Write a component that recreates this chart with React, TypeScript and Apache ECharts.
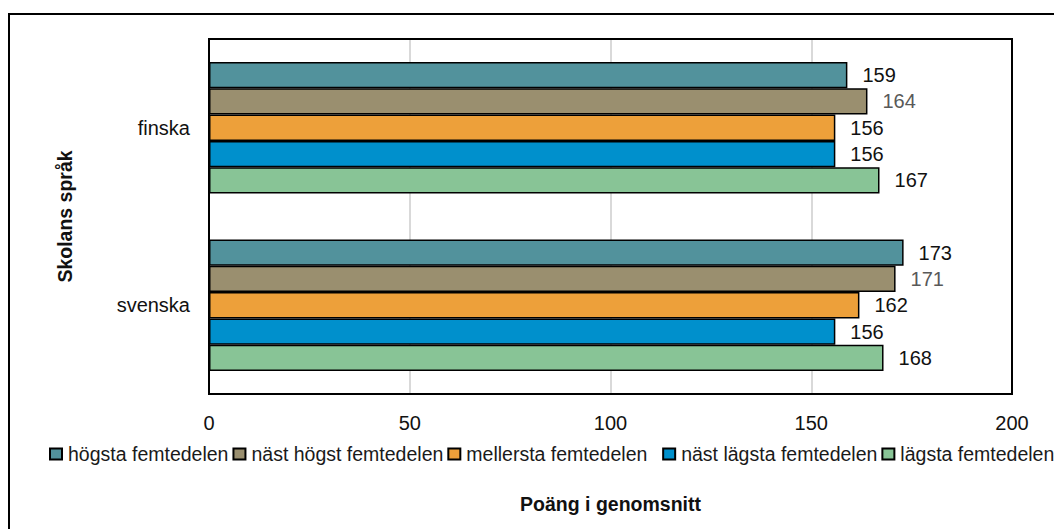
import React, { useEffect, useRef } from "react";
import * as echarts from "echarts";

const categories = ["finska", "svenska"];
const seriesNames = [
  "högsta femtedelen",
  "näst högst femtedelen",
  "mellersta femtedelen",
  "näst lägsta femtedelen",
  "lägsta femtedelen",
];
const hogsta = [159, 173];
const nastHogst = [164, 171];
const mellersta = [156, 162];
const nastLagsta = [156, 156];
const lagsta = [167, 168];
const seriesValues = [hogsta, nastHogst, mellersta, nastLagsta, lagsta];
const colors = ["#52929C", "#9A8F6F", "#EDA03A", "#0090CC", "#88C496"];
const labelColors = ["#111", "#595959", "#111", "#111", "#111"];
const xTicks = [0, 50, 100, 150, 200];

const FONT = "'Liberation Sans', Arial, sans-serif";
const FS = 20;

export default function App() {
  const ref = useRef<HTMLDivElement>(null);
  useEffect(() => {
    if (!ref.current) return;
    const chart = echarts.init(ref.current, null, { renderer: "svg" });
    const gl = 209, gt = 39, gw = 803, gh = 355;
    chart.setOption({
      animation: false,
      textStyle: { fontFamily: FONT },
      grid: { left: gl, top: gt, width: gw, height: gh, show: false },
      legend: {
        left: 49,
        top: 444,
        width: 1040,
        padding: 0,
        itemGap: 4,
        itemWidth: 12,
        itemHeight: 11,
        icon: "rect",
        formatter: (n: string) => (n === "mellersta femtedelen" ? n + "  " : n),
        textStyle: { fontSize: 19.5, color: "#1a1a1a", fontFamily: FONT, padding: [0, 0, 0, 1] },
        data: seriesNames,
      },
      xAxis: {
        type: "value",
        min: xTicks[0],
        max: xTicks[xTicks.length - 1],
        interval: 50,
        name: "Poäng i genomsnitt",
        nameLocation: "middle",
        nameGap: 100,
        nameTextStyle: { fontSize: 19.5, fontWeight: "bold", color: "#111", fontFamily: FONT },
        axisLine: { show: false },
        axisTick: { show: false },
        axisLabel: { fontSize: FS, color: "#111", margin: 19, fontFamily: FONT },
        splitLine: { show: true, lineStyle: { color: "#D9D9D9", width: 2 } },
      },
      yAxis: {
        type: "category",
        inverse: true,
        data: categories,
        name: "Skolans språk",
        nameLocation: "middle",
        nameGap: 134,
        nameRotate: 90,
        nameTextStyle: { fontSize: 19.5, fontWeight: "bold", color: "#111", fontFamily: FONT },
        axisLine: { show: false },
        axisTick: { show: false },
        axisLabel: { fontSize: FS, color: "#111", margin: 19, fontFamily: FONT },
      },
      graphic: [
        {
          type: "rect",
          shape: { x: 9, y: 14, width: 1100, height: 600 },
          style: { fill: "none", stroke: "#000", lineWidth: 2 },
          silent: true,
        },
        {
          type: "rect",
          shape: { x: gl, y: gt, width: gw, height: gh },
          style: { fill: "none", stroke: "#000", lineWidth: 2 },
          z: 100,
          silent: true,
        },
      ],
      series: seriesNames.map((name, i) => ({
        name,
        type: "bar",
        data: seriesValues[i],
        barGap: "0%",
        barCategoryGap: "26%",
        itemStyle: { color: colors[i], borderColor: "#000", borderWidth: 1.5 },
        label: {
          show: true,
          position: "right",
          distance: 15,
          fontSize: FS,
          color: labelColors[i],
          fontFamily: FONT,
        },
      })),
    });
    return () => chart.dispose();
  }, []);
  return (
    <div
      ref={ref}
      style={{ position: "fixed", left: 0, top: 0, width: 1054, height: 529, background: "#fff" }}
    />
  );
}
